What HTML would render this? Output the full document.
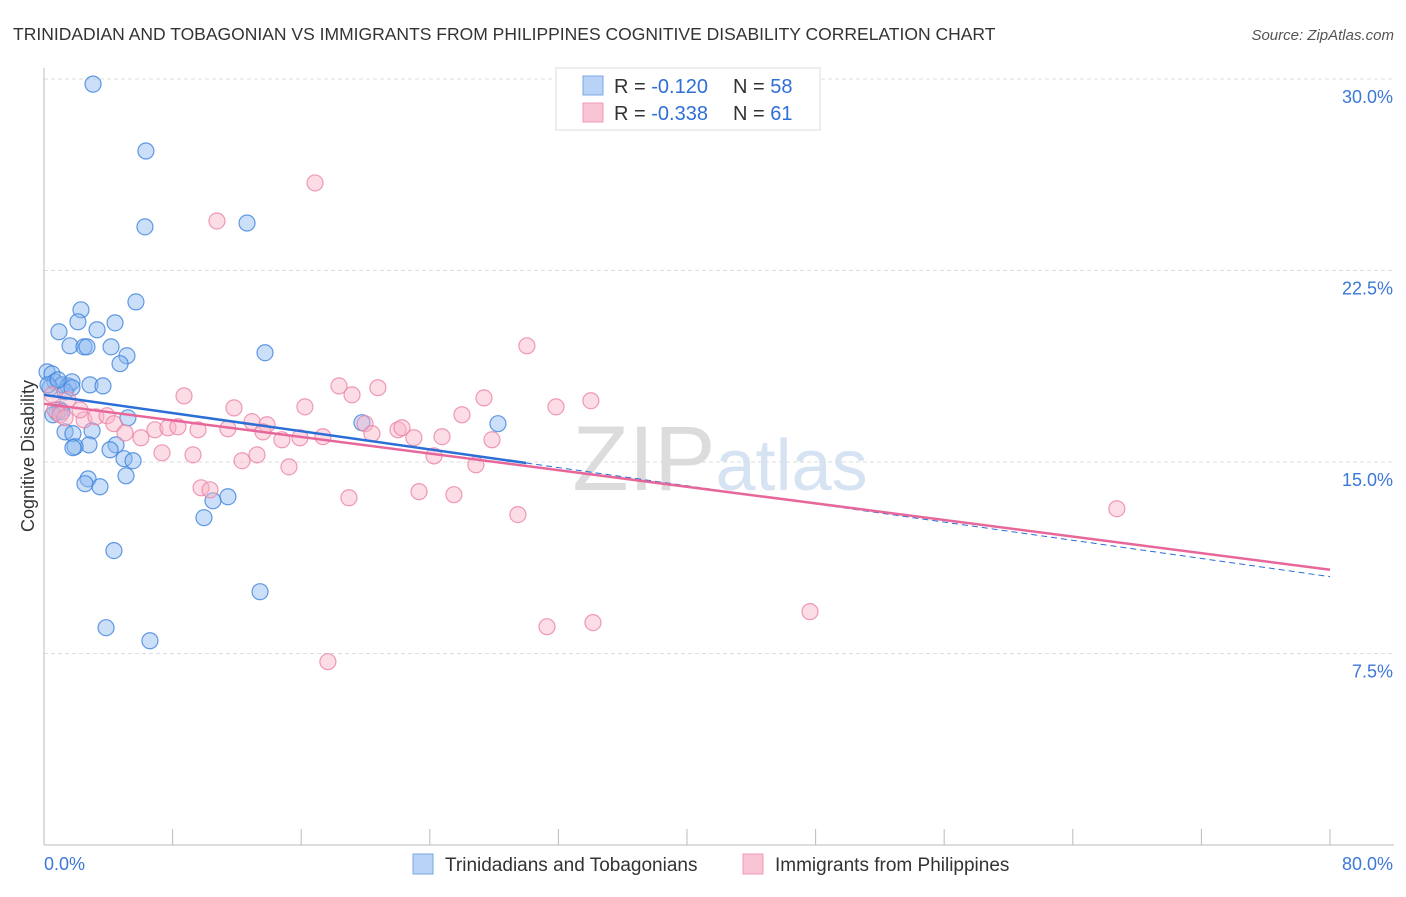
<!DOCTYPE html>
<html><head><meta charset="utf-8"><style>
body{margin:0;background:#fff;font-family:"Liberation Sans",sans-serif;}
svg text{font-family:"Liberation Sans",sans-serif;}
</style></head><body>
<svg id="chart" width="1406" height="892">
<text x="13" y="40" font-size="17.5" fill="#333">TRINIDADIAN AND TOBAGONIAN VS IMMIGRANTS FROM PHILIPPINES COGNITIVE DISABILITY CORRELATION CHART</text>
<text x="1394" y="40" font-size="15" fill="#555" font-style="italic" text-anchor="end">Source: ZipAtlas.com</text>
<text x="720" y="490" font-size="92" fill="#e4e4e4" text-anchor="middle" font-family="Liberation Serif"><tspan fill="#dcdcdc">ZIP</tspan><tspan fill="#d6e3f3" font-family="Liberation Sans" font-size="72">atlas</tspan></text>
<g id="grid"></g><g id="axes"></g><g id="pts"></g><g id="lines"></g>
<g>
<rect x="556" y="68" width="264" height="62" fill="#fff" stroke="#ddd"/>
<rect x="583" y="76" width="20" height="19" fill="#b8d3f5" stroke="#7aa8e6"/>
<rect x="583" y="103" width="20" height="19" fill="#f9c5d5" stroke="#f099b5"/>
<text x="614" y="93" font-size="20" fill="#333">R = <tspan fill="#2f6fd6">-0.120</tspan><tspan x="733">N = </tspan><tspan fill="#2f6fd6">58</tspan></text>
<text x="614" y="120" font-size="20" fill="#333">R = <tspan fill="#2f6fd6">-0.338</tspan><tspan x="733">N = </tspan><tspan fill="#2f6fd6"> 61</tspan></text>
</g>
<g>
<rect x="413" y="854" width="20" height="20" fill="#b8d3f5" stroke="#7aa8e6"/>
<text x="445" y="871" font-size="19" fill="#333">Trinidadians and Tobagonians</text>
<rect x="743" y="854" width="20" height="20" fill="#f9c5d5" stroke="#f099b5"/>
<text x="775" y="871" font-size="19" fill="#333">Immigrants from Philippines</text>
</g>
<text transform="translate(34,456) rotate(-90)" font-size="18" fill="#333" text-anchor="middle">Cognitive Disability</text>
</svg>
<script>
const blueX=[3.05,6.34,6.28,12.63,5.72,2.30,0.93,2.11,4.42,3.30,1.62,2.49,2.67,4.17,5.16,4.73,13.75,0.19,0.50,0.68,1.12,1.49,1.74,2.86,3.67,0.37,1.31,1.00,0.81,1.12,5.22,19.78,28.24,1.31,1.80,2.99,2.80,1.93,1.80,4.48,4.11,4.98,5.54,5.10,2.74,2.55,3.48,11.44,10.51,9.95,4.35,13.44,3.86,6.59,0.25,0.56,0.87,1.74];
const blueY=[29.80,27.18,24.21,24.36,21.27,20.96,20.10,20.49,20.45,20.18,19.55,19.51,19.51,19.51,19.16,18.85,19.28,18.53,18.45,18.14,18.02,17.98,18.14,18.02,17.98,17.91,17.75,17.04,16.93,16.97,16.73,16.54,16.50,16.18,16.11,16.22,15.67,15.60,15.56,15.67,15.48,15.13,15.05,14.46,14.34,14.15,14.03,13.64,13.48,12.82,11.53,9.92,8.51,8.00,18.02,16.85,18.22,17.91];
const pinkX=[16.86,10.76,30.04,8.71,11.82,16.23,18.35,19.16,20.77,27.37,31.85,34.02,26.00,19.97,12.94,13.87,11.44,2.49,3.23,3.92,4.35,5.04,6.03,6.90,7.71,8.33,9.58,13.62,14.80,15.92,17.35,20.40,22.02,22.27,23.01,24.76,27.87,24.26,26.87,7.34,9.27,12.32,13.25,15.24,9.77,10.33,18.97,23.33,25.50,29.48,66.74,47.65,31.29,34.15,17.66,0.68,1.00,1.31,2.24,0.50,1.49];
const pinkY=[25.93,24.44,19.55,17.59,17.12,17.16,17.98,17.63,17.91,17.51,17.16,17.40,16.85,16.50,16.58,16.46,16.30,16.65,16.77,16.81,16.50,16.14,15.95,16.26,16.34,16.38,16.26,16.18,15.87,15.95,15.99,16.11,16.26,16.34,15.95,15.99,15.87,15.24,14.89,15.36,15.28,15.05,15.28,14.81,13.99,13.91,13.60,13.84,13.72,12.94,13.17,9.14,8.55,8.71,7.18,17.04,16.85,16.73,17.04,17.63,17.44];
const yTicks=[30,22.5,15,7.5];
const yTickLabels=["30.0%","22.5%","15.0%","7.5%"];
const xTickLabels=["0.0%","80.0%"];
const blueTrend=[17.63,10.51], pinkTrend=[17.28,10.78], blueSolidEnd=30;
const NS="http://www.w3.org/2000/svg";
const sx=v=>44+v/80*1286, sy=v=>845-v/30*766;
function mk(t,a,p){const e=document.createElementNS(NS,t);for(const k in a)e.setAttribute(k,a[k]);p.appendChild(e);return e;}
const grid=document.getElementById('grid'),axes=document.getElementById('axes'),pts=document.getElementById('pts'),lines=document.getElementById('lines');
yTicks.forEach((t,i)=>{
 const l=mk('line',{x1:44,x2:1394,y1:sy(t),y2:sy(t),stroke:'#ddd','stroke-dasharray':'4,3'},grid);
 
 
 const tx=mk('text',{x:1393,y:sy(t)+24,'font-size':18,fill:'#3b78d8','text-anchor':'end'},axes);
 tx.textContent=yTickLabels[i];
 
 
});
mk('line',{x1:44,x2:44,y1:68,y2:845,stroke:'#bbb'},axes);
mk('line',{x1:44,x2:1394,y1:845,y2:845,stroke:'#bbb'},axes);
for(let i=0;i<=10;i++){const x=sx(i*8);mk('line',{x1:x,x2:x,y1:829,y2:845,stroke:'#bbb'},axes);}
[[0,'start',44],[1,'end',1393]].forEach(([i,a,x])=>{
 const t=mk('text',{x:x,y:870,'font-size':18,fill:'#3b78d8','text-anchor':a},axes);
 t.textContent=xTickLabels[i];
 
 
});
blueX.forEach((x,i)=>{
 const c=mk('circle',{cx:sx(x),cy:sy(blueY[i]),r:8,fill:'rgba(140,185,240,0.45)',stroke:'rgba(60,130,220,0.8)','stroke-width':1.2},pts);
 
 
});
pinkX.forEach((x,i)=>{
 const c=mk('circle',{cx:sx(x),cy:sy(pinkY[i]),r:8,fill:'rgba(248,180,200,0.45)',stroke:'rgba(235,130,165,0.8)','stroke-width':1.2},pts);
 
 
});
const by=x=>blueTrend[0]+(blueTrend[1]-blueTrend[0])*x/80;
const bs=mk('line',{x1:sx(0),y1:sy(blueTrend[0]),x2:sx(blueSolidEnd),y2:sy(by(blueSolidEnd)),stroke:'#2b6fd6','stroke-width':2.5},lines);


const bd=mk('line',{x1:sx(blueSolidEnd),y1:sy(by(blueSolidEnd)),x2:sx(80),y2:sy(blueTrend[1]),stroke:'#2b6fd6','stroke-width':1,'stroke-dasharray':'6,4'},lines);


const pl=mk('line',{x1:sx(0),y1:sy(pinkTrend[0]),x2:sx(80),y2:sy(pinkTrend[1]),stroke:'#e8679a','stroke-width':2.5},lines);


</script>
</body></html>
